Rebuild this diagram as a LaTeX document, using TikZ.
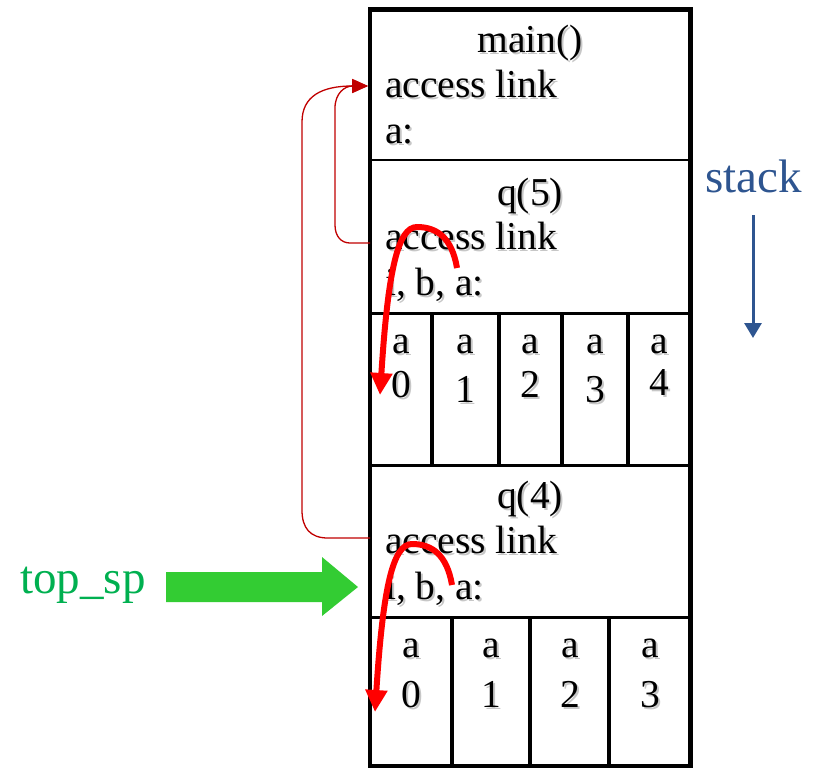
\documentclass[tikz,border=0pt]{standalone}
\usepackage{fontspec}
\setmainfont{Liberation Serif}
\usetikzlibrary{arrows.meta}
\definecolor{linkred}{HTML}{C00000}
\definecolor{bigred}{HTML}{FF0000}
\definecolor{arrgreen}{HTML}{33CC33}
\definecolor{txtgreen}{HTML}{00B050}
\definecolor{stackblue}{HTML}{2E5590}
\newcommand\shtext[1]{\makebox[0pt][l]{\kern2pt\raisebox{-2pt}{\textcolor{black!22}{#1}}}#1}
\begin{document}
\begin{tikzpicture}[x=1pt,y=-1pt,
  frametext/.style={font=\fontsize{39.5}{47}\selectfont, inner sep=0pt},
  sidetext/.style={font=\fontsize{47}{56}\selectfont, inner sep=0pt},
  rowline/.style={line width=3pt},
  cellline/.style={line width=4pt},
  linkarrow/.style={linkred, line width=1.3pt, -{Triangle[length=16pt,width=14pt]}},
  tracearrow/.style={bigred, line width=6pt, -{Triangle[length=22pt,width=21pt]}}]
\useasboundingbox (0,0) rectangle (817,769);

% frame grid
\draw[line width=2.5pt] (370,160) -- (690.5,160);
\draw[rowline] (370,313) -- (690.5,313);
\draw[rowline] (370,465) -- (690.5,465);
\draw[rowline] (370,617) -- (690.5,617);
\draw[cellline] (432,313) -- (432,465);
\draw[cellline] (499,313) -- (499,465);
\draw[cellline] (562,313) -- (562,465);
\draw[cellline] (628,313) -- (628,465);
\draw[cellline] (452,617) -- (452,766);
\draw[cellline] (530,617) -- (530,766);
\draw[cellline] (609,617) -- (609,766);
\draw[line width=4.5pt] (370,9.5) rectangle (690.5,766);

% main frame
\node[frametext, anchor=base] (mainT) at (530,52) {\shtext{main()}};
\node[frametext, anchor=base west] (mainAL) at (385,97) {\shtext{access link}};
\node[frametext, anchor=base west] (mainA) at (385,143) {\shtext{a:}};

% q(5) frame
\node[frametext, anchor=base] (q5T) at (530,205) {\shtext{q(5)}};
\node[frametext, anchor=base west] (q5AL) at (385,249) {\shtext{access link}};
\node[frametext, anchor=base west] (q5V) at (385,295) {\shtext{i, b, a:}};
\node[frametext, anchor=base] (q5a0) at (401,353) {\shtext{a}};
\node[frametext, anchor=base] (q5a1) at (465,353) {\shtext{a}};
\node[frametext, anchor=base] (q5a2) at (530,353) {\shtext{a}};
\node[frametext, anchor=base] (q5a3) at (595,353) {\shtext{a}};
\node[frametext, anchor=base] (q5a4) at (659,353) {\shtext{a}};
\node[frametext, anchor=base] (q5d0) at (401,397) {\shtext{0}};
\node[frametext, anchor=base] (q5d1) at (465,402) {\shtext{1}};
\node[frametext, anchor=base] (q5d2) at (530,397) {\shtext{2}};
\node[frametext, anchor=base] (q5d3) at (595,402) {\shtext{3}};
\node[frametext, anchor=base] (q5d4) at (659,395) {\shtext{4}};

% q(4) frame
\node[frametext, anchor=base] (q4T) at (530,508) {\shtext{q(4)}};
\node[frametext, anchor=base west] (q4AL) at (385,553) {\shtext{access link}};
\node[frametext, anchor=base west] (q4V) at (385,599) {\shtext{i, b, a:}};
\node[frametext, anchor=base] (q4a0) at (411,657) {\shtext{a}};
\node[frametext, anchor=base] (q4a1) at (491,657) {\shtext{a}};
\node[frametext, anchor=base] (q4a2) at (570,657) {\shtext{a}};
\node[frametext, anchor=base] (q4a3) at (650,657) {\shtext{a}};
\node[frametext, anchor=base] (q4d0) at (411,707) {\shtext{0}};
\node[frametext, anchor=base] (q4d1) at (491,707) {\shtext{1}};
\node[frametext, anchor=base] (q4d2) at (570,707) {\shtext{2}};
\node[frametext, anchor=base] (q4d3) at (650,707) {\shtext{3}};

% access links
\coordinate (mainLink) at (368,86);
\coordinate (q5Link) at (370,243);
\coordinate (q4Link) at (370,538);
\draw[linkarrow] (q4Link) -- (328,538) .. controls (310,538) and (302,528) .. (302,510)
  -- (302,122) .. controls (302,96) and (322,86) .. (mainLink);
\draw[linkarrow] (q5Link) -- (350,243) .. controls (341,243) and (335,236) .. (335,225)
  -- (335,108) .. controls (335,93) and (345,86) .. (mainLink);

% red trace arrows
\coordinate (tr1s) at (457,268);
\coordinate (tr1p) at (417,227);
\coordinate (tr1e) at (380,395);
\coordinate (tr2s) at (452,585);
\coordinate (tr2p) at (412,544);
\coordinate (tr2e) at (375,712);
\draw[tracearrow] (tr1s) .. controls (452,238) and (437,227) .. (tr1p)
  .. controls (398,227) and (388,270) .. (tr1e);
\draw[tracearrow] (tr2s) .. controls (447,555) and (432,544) .. (tr2p)
  .. controls (393,544) and (383,587) .. (tr2e);

% stack label
\node[sidetext, text=stackblue, anchor=base west] (stackT) at (705,192) {stack};
\coordinate (stackS) at (753,215);
\coordinate (stackE) at (753,338);
\draw[stackblue, line width=3pt, -{Triangle[length=15pt,width=17pt]}] (stackS) -- (stackE);

% top_sp
\node[sidetext, text=txtgreen, anchor=base west] (topsp) at (20,593) {top\_sp};
\fill[arrgreen] (166,572) -- (322,572) -- (322,557) -- (358,587) -- (322,616) -- (322,602) -- (166,602) -- cycle;
\end{tikzpicture}
\end{document}
